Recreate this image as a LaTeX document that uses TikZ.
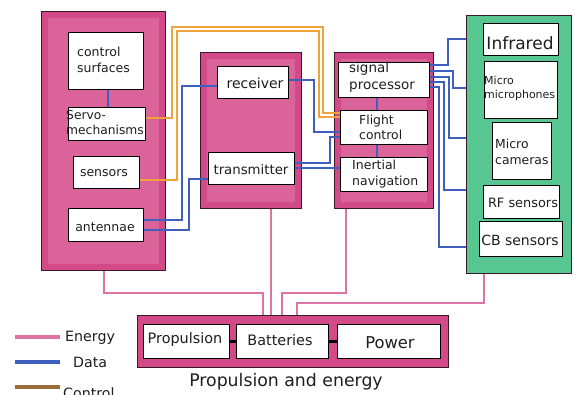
\documentclass[tikz,border=0pt]{standalone}
\usepackage{fontspec}
\setmainfont{DejaVu Sans}
\definecolor{pinkA}{HTML}{D24A88}
\definecolor{pinkB}{HTML}{DA649A}
\definecolor{pinkE}{HTML}{DC74A6}
\definecolor{greenA}{HTML}{58C690}
\definecolor{bluD}{HTML}{3F5EBE}
\definecolor{orgC}{HTML}{F0A23C}
\definecolor{brnC}{HTML}{9C6B3A}
\definecolor{edgeP}{HTML}{3A1A26}
\definecolor{txt}{HTML}{1E1E1E}
\begin{document}
\begin{tikzpicture}[x=1pt,y=-1pt,
  grp/.style={draw=edgeP, line width=1.3pt, anchor=north west, inner sep=0pt},
  inbox/.style={draw=black, line width=1.2pt, fill=white, anchor=north west, inner sep=0pt},
  lbl/.style={inner sep=0pt, text=txt, align=left},
  energy/.style={draw=pinkE, line width=2pt},
  data/.style={draw=bluD, line width=1.8pt},
  ctl/.style={draw=orgC, line width=2.6pt},
  link/.style={draw=black, line width=2.4pt},
  fa/.style={font=\fontsize{12.5}{16}\selectfont}]
\useasboundingbox (0,0) rectangle (577,394);

% ---------- group boxes ----------
\node[grp, fill=pinkA, minimum width=124pt, minimum height=259pt] (L) at (41,11) {};
\fill[pinkB] ([shift={(7,7)}]L.north west) rectangle ([shift={(-7,-7)}]L.south east);
\node[grp, fill=pinkA, minimum width=101pt, minimum height=156pt] (M) at (200,52) {};
\fill[pinkB] ([shift={(7,7)}]M.north west) rectangle ([shift={(-7,-7)}]M.south east);
\node[grp, fill=pinkA, minimum width=99pt, minimum height=156pt] (R) at (334,52) {};
\fill[pinkB] ([shift={(7,7)}]R.north west) rectangle ([shift={(-7,-7)}]R.south east);
\node[grp, fill=greenA, minimum width=105pt, minimum height=258pt] (G) at (466,15) {};
\node[grp, fill=pinkA, minimum width=311pt, minimum height=52pt] (P) at (137,315) {};

% ---------- inner boxes ----------
\node[inbox, minimum width=75pt, minimum height=57pt] (ctrl) at (68,32) {};
\node[inbox, minimum width=77pt, minimum height=33pt] (servo) at (68,107) {};
\node[inbox, minimum width=66pt, minimum height=32pt] (sens) at (73,156) {};
\node[inbox, minimum width=75pt, minimum height=33pt] (ant) at (68,208) {};
\node[inbox, minimum width=71pt, minimum height=32pt] (recv) at (217,66) {};
\node[inbox, minimum width=86pt, minimum height=32pt] (trans) at (208,152) {};
\node[inbox, minimum width=91pt, minimum height=35pt] (sp) at (338,62) {};
\node[inbox, minimum width=87pt, minimum height=34pt] (fc) at (340,110) {};
\node[inbox, minimum width=87pt, minimum height=34pt] (inav) at (340,157) {};
\node[inbox, minimum width=75pt, minimum height=32pt] (ir) at (483,23) {};
\node[inbox, minimum width=73pt, minimum height=57pt] (mic) at (484,61) {};
\node[inbox, minimum width=59pt, minimum height=57pt] (cam) at (492,122) {};
\node[inbox, minimum width=76pt, minimum height=33pt] (rf) at (483,185) {};
\node[inbox, minimum width=83pt, minimum height=35pt] (cb) at (479,221) {};
\node[inbox, minimum width=86pt, minimum height=34pt] (prop) at (143,324) {};
\node[inbox, minimum width=92pt, minimum height=34pt] (bat) at (236,324) {};
\node[inbox, minimum width=103pt, minimum height=34pt] (pow) at (337,324) {};

% ---------- texts ----------
\node[lbl, fa, anchor=west] (t1) at (77,60) {control\\surfaces};
\node[lbl, font=\fontsize{12.3}{15}\selectfont, anchor=west] (t2) at (66,122.5) {Servo-\\mechanisms};
\node[lbl, fa] (t3) at (104,173) {sensors};
\node[lbl, fa] (t4) at (105,227) {antennae};
\node[lbl, font=\fontsize{14}{16}\selectfont] (t5) at (255,83) {receiver};
\node[lbl, font=\fontsize{13.3}{16}\selectfont] (t6) at (251,170) {transmitter};
\node[lbl, font=\fontsize{13.5}{17}\selectfont, anchor=west] (t7) at (349,77.5) {signal\\processor};
\node[lbl, font=\fontsize{12.4}{15}\selectfont, anchor=west] (t8) at (359,127.5) {Flight\\control};
\node[lbl, font=\fontsize{12.5}{16}\selectfont, anchor=west] (t9) at (352,174) {Inertial\\navigation};
\node[lbl, font=\fontsize{17}{20}\selectfont] (t10) at (520,43) {Infrared};
\node[lbl, font=\fontsize{11}{14}\selectfont, anchor=west] (t11) at (484,88) {Micro\\microphones};
\node[lbl, font=\fontsize{12.4}{16}\selectfont, anchor=west] (t12) at (495,152) {Micro\\cameras};
\node[lbl, font=\fontsize{12.9}{16}\selectfont] (t13) at (523,203) {RF sensors};
\node[lbl, font=\fontsize{14}{16}\selectfont] (t14) at (520,240) {CB sensors};
\node[lbl, font=\fontsize{14.4}{16}\selectfont] (t15) at (185,340) {Propulsion};
\node[lbl, font=\fontsize{14.4}{16}\selectfont] (t16) at (280,340) {Batteries};
\node[lbl, font=\fontsize{16.3}{18}\selectfont] (t17) at (390,343) {Power};
\node[lbl, font=\fontsize{17.3}{20}\selectfont] (t18) at (286,382) {Propulsion and energy};

% ---------- energy ----------
\draw[energy] (104,0 |- L.south) |- (263,293) -- (263,0 |- P.north);
\draw[energy] (271,0 |- M.south) -- (271,0 |- P.north);
\draw[energy] (346,0 |- R.south) |- (282,293) -- (282,0 |- P.north);
\draw[energy] (484,0 |- G.south) |- (297,303) -- (297,0 |- P.north);

% ---------- control ----------
\draw[ctl] (servo.east |- 0,118) -- (172,118) -- (172,27) -- (323,27) -- (323,113) -- (fc.west |- 0,113);
\draw[ctl] (sens.east |- 0,180) -- (177,180) -- (177,31) -- (319,31) -- (319,117) -- (fc.west |- 0,117);

% ---------- data ----------
\draw[data] (108,0 |- ctrl.south) -- (108,0 |- servo.north);
\draw[data] (ant.east |- 0,220) -| (182,86) -- (recv.west |- 0,86);
\draw[data] (ant.east |- 0,230) -| (189,179) -- (trans.west |- 0,179);
\draw[data] (recv.east |- 0,80) -| (314,132) -- (fc.west |- 0,132);
\draw[data] (trans.east |- 0,163) -| (330,137) -- (fc.west |- 0,137);
\draw[data] (trans.east |- 0,168) -- (inav.west |- 0,168);
\draw[data] (377,0 |- sp.south) -- (377,0 |- fc.north);
\draw[data] (377,0 |- fc.south) -- (377,0 |- inav.north);
\draw[data] (sp.east |- 0,65) -| (448,39) -- (G.west |- 0,39);
\draw[data] (sp.east |- 0,71) -| (453,88) -- (G.west |- 0,88);
\draw[data] (sp.east |- 0,77) -| (449,138) -- (G.west |- 0,138);
\draw[data] (sp.east |- 0,82) -| (444,190) -- (G.west |- 0,190);
\draw[data] (sp.east |- 0,87) -| (439,247) -- (G.west |- 0,247);

% ---------- links in propulsion box ----------
\draw[link] (prop.east) -- (bat.west);
\draw[link] (bat.east) -- (pow.west);

% ---------- legend ----------
\draw[draw=pinkE, line width=4pt] (15,337) -- (60,337);
\draw[draw=bluD, line width=4pt] (15,362) -- (60,362);
\draw[draw=brnC, line width=4pt] (15,387) -- (60,387);
\node[lbl, font=\fontsize{14.2}{16}\selectfont, anchor=west] (l1) at (65,338) {Energy};
\node[lbl, font=\fontsize{14.2}{16}\selectfont, anchor=west] (l2) at (73,362) {Data};
\node[lbl, font=\fontsize{14.2}{16}\selectfont, anchor=base west] (l3) at (63,398) {Control};
\end{tikzpicture}
\end{document}
